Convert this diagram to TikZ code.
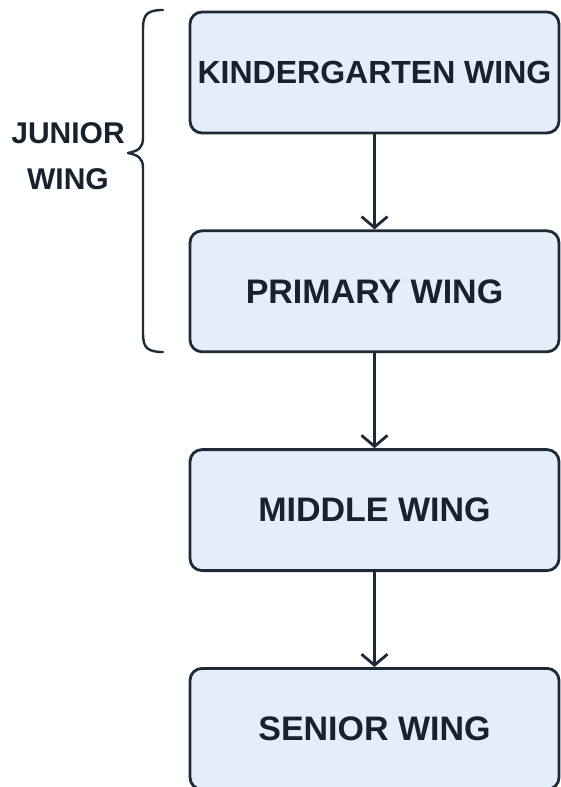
\documentclass[tikz,border=0pt]{standalone}
\usepackage{fontspec}
\setmainfont{Liberation Sans}
\usepackage{tikz}
\usetikzlibrary{arrows.meta, positioning}

\definecolor{wingfill}{HTML}{E3EEF8}
\definecolor{wingline}{HTML}{1E2A38}
\definecolor{wingtext}{HTML}{18212E}

\begin{document}
\begin{tikzpicture}[x=1pt, y=-1pt, line join=round, line cap=round,
    wingbox/.style={draw=wingline, fill=wingfill, line width=2.8pt, rounded corners=12pt,
        minimum width=369pt, minimum height=121pt, inner sep=4pt, text=wingtext,
        font=\fontsize{34}{40}\selectfont\bfseries},
    flow/.style={draw=wingline, line width=2.8pt,
        -{Straight Barb[length=11pt, width=26pt, line width=2.8pt]}}]

    % page frame
    \useasboundingbox (0,0) rectangle (560,787);

    % the four wings
    \node[wingbox, font=\fontsize{32}{40}\selectfont\bfseries] (kinder) at (374.5,72.5) {KINDERGARTEN WING};
    \node[wingbox, below=95pt of kinder] (primary) {PRIMARY WING};
    \node[wingbox, below=95pt of primary] (middle) {MIDDLE WING};
    \node[wingbox, below=95pt of middle] (senior) {SENIOR WING};

    % arrows between wings
    \draw[flow] (kinder.south) -- (primary.north);
    \draw[flow] (primary.south) -- (middle.north);
    \draw[flow] (middle.south) -- (senior.north);

    % brace and label for the junior wing
    \draw[wingline, line width=2.4pt] (163,10) .. controls (148,10) and (143,14) .. (143,28)
        -- (143,138) .. controls (143,148) and (138,151) .. (128,153)
        .. controls (138,155) and (143,158) .. (143,168)
        -- (143,334) .. controls (143,348) and (148,352) .. (163,352);
    \node[text=wingtext, align=center, font=\fontsize{30}{46}\selectfont\bfseries]
        (junior) at (68,156) {JUNIOR\\WING};

\end{tikzpicture}
\end{document}
